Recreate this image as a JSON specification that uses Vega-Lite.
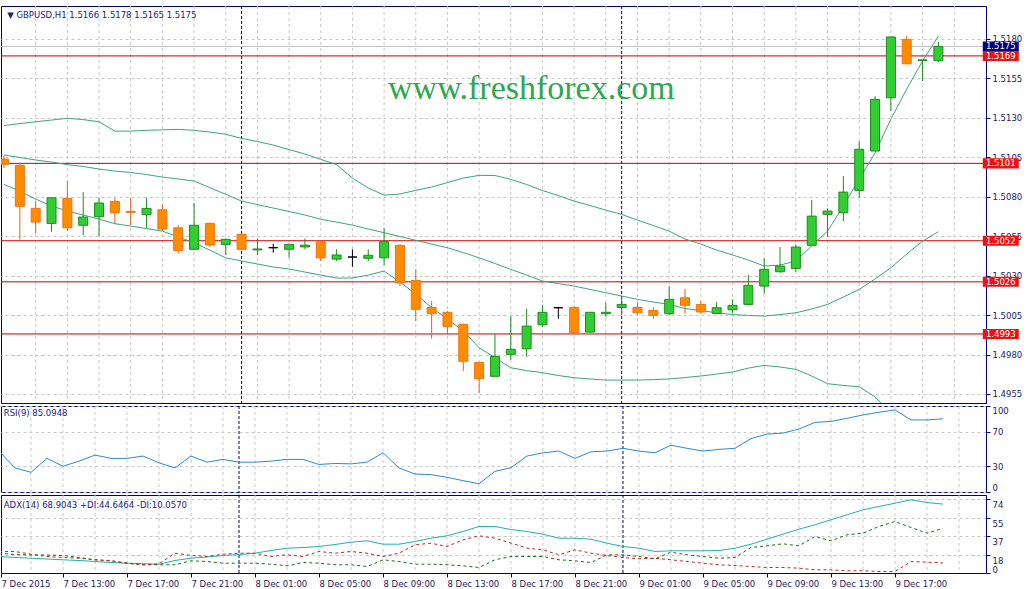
{
  "$schema": "https://vega.github.io/schema/vega-lite/v6.json",
  "background": "white",
  "padding": {"left": 0, "top": 5, "right": 0, "bottom": 0},
  "spacing": 3,
  "bounds": "flush",
  "config": {"view": {"stroke": "#000080", "strokeWidth": 1}, "text": {"font": "DejaVu Sans"}},
  "datasets": {
    "vgrid": [{"h":11},{"h":13},{"h":15},{"h":17},{"h":19},{"h":21},{"h":23},{"h":25},{"h":27},{"h":29},{"h":31},{"h":33},{"h":35},{"h":37},{"h":39},{"h":41},{"h":43},{"h":45},{"h":47},{"h":49},{"h":51},{"h":53},{"h":55},{"h":57},{"h":59},{"h":61},{"h":63},{"h":65},{"h":67},{"h":69}],
    "days": [{"h": 24}, {"h": 48}],
    "levels": [
      {"p": 1.5175, "kind": "bid"},
      {"p": 1.5169, "kind": "level"},
      {"p": 1.5101, "kind": "level"},
      {"p": 1.5052, "kind": "level"},
      {"p": 1.5026, "kind": "level"},
      {"p": 1.4993, "kind": "level"}
    ],
    "bars": [
      {"h":9,"o":1.51037,"hi":1.5106,"lo":1.5098,"c":1.51004,"dir":"down","bbU":1.51249,"bbM":1.51063,"bbL":1.50876,"rsi":47.6,"adx":16.5,"pdi":19.8,"mdi":21.5},
      {"h":10,"o":1.50997,"hi":1.51007,"lo":1.50526,"c":1.50738,"dir":"down","bbU":1.51262,"bbM":1.51047,"bbL":1.50835,"rsi":28.0,"adx":15.5,"pdi":18.5,"mdi":21.5},
      {"h":11,"o":1.50725,"hi":1.50771,"lo":1.50567,"c":1.50638,"dir":"down","bbU":1.51273,"bbM":1.51031,"bbL":1.50784,"rsi":22.9,"adx":14.8,"pdi":18.0,"mdi":18.8},
      {"h":12,"o":1.5063,"hi":1.50792,"lo":1.50577,"c":1.50792,"dir":"up","bbU":1.51284,"bbM":1.51018,"bbL":1.5074,"rsi":39.1,"adx":14.0,"pdi":18.0,"mdi":16.5},
      {"h":13,"o":1.50788,"hi":1.50898,"lo":1.50581,"c":1.50602,"dir":"down","bbU":1.51295,"bbM":1.51002,"bbL":1.50708,"rsi":30.0,"adx":13.2,"pdi":17.5,"mdi":15.5},
      {"h":14,"o":1.50618,"hi":1.50828,"lo":1.50554,"c":1.5067,"dir":"up","bbU":1.51287,"bbM":1.5099,"bbL":1.50683,"rsi":35.9,"adx":12.5,"pdi":15.5,"mdi":14.8},
      {"h":15,"o":1.50672,"hi":1.50792,"lo":1.50548,"c":1.50759,"dir":"up","bbU":1.51273,"bbM":1.50974,"bbL":1.50657,"rsi":42.9,"adx":11.5,"pdi":13.2,"mdi":13.2},
      {"h":16,"o":1.50769,"hi":1.50792,"lo":1.50624,"c":1.50697,"dir":"down","bbU":1.51214,"bbM":1.50961,"bbL":1.50628,"rsi":39.1,"adx":10.5,"pdi":12.2,"mdi":12.2},
      {"h":17,"o":1.50706,"hi":1.50792,"lo":1.50618,"c":1.507,"dir":"down","bbU":1.51214,"bbM":1.50952,"bbL":1.50613,"rsi":39.1,"adx":9.8,"pdi":9.8,"mdi":9.8},
      {"h":18,"o":1.50685,"hi":1.50792,"lo":1.50602,"c":1.50725,"dir":"up","bbU":1.51219,"bbM":1.50939,"bbL":1.50597,"rsi":41.8,"adx":9.3,"pdi":8.2,"mdi":8.2},
      {"h":19,"o":1.50716,"hi":1.5075,"lo":1.50581,"c":1.50594,"dir":"down","bbU":1.51222,"bbM":1.50923,"bbL":1.50581,"rsi":33.9,"adx":8.8,"pdi":8.2,"mdi":9.2},
      {"h":20,"o":1.50602,"hi":1.50618,"lo":1.5044,"c":1.50459,"dir":"down","bbU":1.51225,"bbM":1.50911,"bbL":1.50544,"rsi":28.0,"adx":12.5,"pdi":8.2,"mdi":19.8},
      {"h":21,"o":1.50466,"hi":1.50759,"lo":1.50459,"c":1.50618,"dir":"up","bbU":1.51219,"bbM":1.50898,"bbL":1.50507,"rsi":41.8,"adx":14.8,"pdi":12.2,"mdi":17.5},
      {"h":22,"o":1.5063,"hi":1.50635,"lo":1.5048,"c":1.50493,"dir":"down","bbU":1.51208,"bbM":1.50856,"bbL":1.50461,"rsi":34.7,"adx":16.0,"pdi":11.5,"mdi":16.5},
      {"h":23,"o":1.50497,"hi":1.50535,"lo":1.5043,"c":1.50529,"dir":"up","bbU":1.51194,"bbM":1.50814,"bbL":1.50412,"rsi":37.9,"adx":17.5,"pdi":9.8,"mdi":18.8},
      {"h":24,"o":1.50561,"hi":1.50565,"lo":1.50461,"c":1.50466,"dir":"down","bbU":1.51168,"bbM":1.50771,"bbL":1.50392,"rsi":34.7,"adx":18.5,"pdi":9.8,"mdi":19.8},
      {"h":25,"o":1.50462,"hi":1.50535,"lo":1.5043,"c":1.50468,"dir":"up","bbU":1.51148,"bbM":1.50749,"bbL":1.50373,"rsi":34.7,"adx":19.8,"pdi":9.8,"mdi":19.8},
      {"h":26,"o":1.50476,"hi":1.50501,"lo":1.50444,"c":1.50476,"dir":"doji","bbU":1.51126,"bbM":1.50727,"bbL":1.50354,"rsi":35.9,"adx":22.5,"pdi":8.8,"mdi":16.5},
      {"h":27,"o":1.50466,"hi":1.50501,"lo":1.50412,"c":1.50497,"dir":"up","bbU":1.51097,"bbM":1.50705,"bbL":1.50341,"rsi":37.9,"adx":24.8,"pdi":7.2,"mdi":18.2},
      {"h":28,"o":1.50481,"hi":1.50535,"lo":1.50466,"c":1.50492,"dir":"up","bbU":1.51069,"bbM":1.50683,"bbL":1.50322,"rsi":37.9,"adx":25.5,"pdi":10.5,"mdi":16.5},
      {"h":29,"o":1.50514,"hi":1.50516,"lo":1.50392,"c":1.50412,"dir":"down","bbU":1.51035,"bbM":1.50656,"bbL":1.50303,"rsi":32.0,"adx":26.5,"pdi":9.8,"mdi":21.5},
      {"h":30,"o":1.50404,"hi":1.50466,"lo":1.50392,"c":1.5043,"dir":"up","bbU":1.51002,"bbM":1.50638,"bbL":1.50284,"rsi":33.2,"adx":28.5,"pdi":8.2,"mdi":19.8},
      {"h":31,"o":1.50417,"hi":1.50466,"lo":1.50355,"c":1.50417,"dir":"doji","bbU":1.50917,"bbM":1.50619,"bbL":1.50284,"rsi":32.7,"adx":30.8,"pdi":8.2,"mdi":21.5},
      {"h":32,"o":1.50409,"hi":1.50466,"lo":1.50392,"c":1.50428,"dir":"up","bbU":1.50854,"bbM":1.50594,"bbL":1.50303,"rsi":34.7,"adx":32.2,"pdi":6.5,"mdi":19.8},
      {"h":33,"o":1.50412,"hi":1.50599,"lo":1.50366,"c":1.50514,"dir":"up","bbU":1.50809,"bbM":1.50571,"bbL":1.50328,"rsi":45.6,"adx":28.8,"pdi":13.2,"mdi":16.5},
      {"h":34,"o":1.50491,"hi":1.50497,"lo":1.50233,"c":1.50254,"dir":"down","bbU":1.50816,"bbM":1.50547,"bbL":1.50259,"rsi":28.0,"adx":28.8,"pdi":11.5,"mdi":19.8},
      {"h":35,"o":1.50269,"hi":1.50339,"lo":1.50012,"c":1.50086,"dir":"down","bbU":1.50839,"bbM":1.50523,"bbL":1.50183,"rsi":20.9,"adx":31.5,"pdi":8.8,"mdi":28.2},
      {"h":36,"o":1.50098,"hi":1.50138,"lo":1.499,"c":1.50058,"dir":"down","bbU":1.5086,"bbM":1.50499,"bbL":1.50096,"rsi":20.2,"adx":34.8,"pdi":8.8,"mdi":29.8},
      {"h":37,"o":1.50067,"hi":1.50075,"lo":1.49928,"c":1.49978,"dir":"down","bbU":1.50888,"bbM":1.50476,"bbL":1.50024,"rsi":17.1,"adx":37.2,"pdi":8.2,"mdi":26.5},
      {"h":38,"o":1.49991,"hi":1.49995,"lo":1.49695,"c":1.49757,"dir":"down","bbU":1.50917,"bbM":1.50445,"bbL":1.49949,"rsi":13.2,"adx":41.5,"pdi":7.2,"mdi":33.2},
      {"h":39,"o":1.4975,"hi":1.49752,"lo":1.49558,"c":1.49647,"dir":"down","bbU":1.50934,"bbM":1.50412,"bbL":1.49843,"rsi":9.6,"adx":46.5,"pdi":5.5,"mdi":37.2},
      {"h":40,"o":1.49662,"hi":1.49928,"lo":1.49662,"c":1.49788,"dir":"up","bbU":1.50933,"bbM":1.50376,"bbL":1.4978,"rsi":24.1,"adx":46.5,"pdi":13.2,"mdi":34.8},
      {"h":41,"o":1.49801,"hi":1.50043,"lo":1.49765,"c":1.49833,"dir":"up","bbU":1.50909,"bbM":1.50339,"bbL":1.49716,"rsi":28.2,"adx":43.5,"pdi":16.5,"mdi":30.0},
      {"h":42,"o":1.49836,"hi":1.5009,"lo":1.49786,"c":1.4998,"dir":"up","bbU":1.50876,"bbM":1.50303,"bbL":1.49698,"rsi":41.8,"adx":41.5,"pdi":16.5,"mdi":24.8},
      {"h":43,"o":1.49988,"hi":1.50113,"lo":1.49976,"c":1.50067,"dir":"up","bbU":1.50838,"bbM":1.50265,"bbL":1.49685,"rsi":45.6,"adx":38.8,"pdi":16.5,"mdi":23.2},
      {"h":44,"o":1.50096,"hi":1.50102,"lo":1.50026,"c":1.50096,"dir":"doji","bbU":1.50806,"bbM":1.50249,"bbL":1.49667,"rsi":47.6,"adx":34.8,"pdi":13.2,"mdi":18.2},
      {"h":45,"o":1.50098,"hi":1.50105,"lo":1.49931,"c":1.49938,"dir":"down","bbU":1.50771,"bbM":1.50233,"bbL":1.49653,"rsi":39.1,"adx":34.8,"pdi":12.2,"mdi":23.2},
      {"h":46,"o":1.49942,"hi":1.50067,"lo":1.49938,"c":1.50067,"dir":"up","bbU":1.50743,"bbM":1.50212,"bbL":1.49645,"rsi":46.8,"adx":33.8,"pdi":10.5,"mdi":19.8},
      {"h":47,"o":1.50058,"hi":1.50128,"lo":1.50039,"c":1.50067,"dir":"up","bbU":1.50714,"bbM":1.50191,"bbL":1.49638,"rsi":47.6,"adx":29.8,"pdi":18.2,"mdi":17.5},
      {"h":48,"o":1.50098,"hi":1.50159,"lo":1.50048,"c":1.50117,"dir":"up","bbU":1.50687,"bbM":1.5017,"bbL":1.49638,"rsi":50.8,"adx":26.5,"pdi":18.2,"mdi":15.5},
      {"h":49,"o":1.50098,"hi":1.50128,"lo":1.50048,"c":1.50064,"dir":"down","bbU":1.50651,"bbM":1.50149,"bbL":1.49638,"rsi":47.6,"adx":24.8,"pdi":16.5,"mdi":14.2},
      {"h":50,"o":1.50079,"hi":1.501,"lo":1.50026,"c":1.50048,"dir":"down","bbU":1.50616,"bbM":1.50132,"bbL":1.49641,"rsi":45.6,"adx":21.5,"pdi":14.2,"mdi":14.8},
      {"h":51,"o":1.50058,"hi":1.50233,"lo":1.50048,"c":1.50149,"dir":"up","bbU":1.50581,"bbM":1.50117,"bbL":1.49645,"rsi":54.4,"adx":22.2,"pdi":20.8,"mdi":13.2},
      {"h":52,"o":1.50159,"hi":1.50216,"lo":1.50058,"c":1.50111,"dir":"down","bbU":1.50531,"bbM":1.50091,"bbL":1.49654,"rsi":50.8,"adx":22.2,"pdi":18.2,"mdi":11.5},
      {"h":53,"o":1.50117,"hi":1.50138,"lo":1.5006,"c":1.50069,"dir":"down","bbU":1.50499,"bbM":1.50078,"bbL":1.49664,"rsi":47.6,"adx":22.2,"pdi":16.5,"mdi":9.8},
      {"h":54,"o":1.5006,"hi":1.50132,"lo":1.5006,"c":1.50096,"dir":"up","bbU":1.50461,"bbM":1.50064,"bbL":1.49676,"rsi":49.6,"adx":22.5,"pdi":14.8,"mdi":8.2},
      {"h":55,"o":1.50083,"hi":1.50149,"lo":1.50064,"c":1.50111,"dir":"up","bbU":1.5043,"bbM":1.50053,"bbL":1.49689,"rsi":50.8,"adx":24.8,"pdi":15.5,"mdi":7.5},
      {"h":56,"o":1.50117,"hi":1.50303,"lo":1.50117,"c":1.50238,"dir":"up","bbU":1.50398,"bbM":1.50047,"bbL":1.49714,"rsi":62.1,"adx":28.8,"pdi":25.5,"mdi":6.5},
      {"h":57,"o":1.50233,"hi":1.50409,"lo":1.50185,"c":1.50339,"dir":"up","bbU":1.5036,"bbM":1.50043,"bbL":1.49731,"rsi":67.3,"adx":33.8,"pdi":27.2,"mdi":5.5},
      {"h":58,"o":1.50324,"hi":1.5048,"lo":1.50318,"c":1.5036,"dir":"up","bbU":1.50366,"bbM":1.50053,"bbL":1.49721,"rsi":68.5,"adx":38.8,"pdi":29.2,"mdi":5.5},
      {"h":59,"o":1.50345,"hi":1.50497,"lo":1.50324,"c":1.5048,"dir":"up","bbU":1.50392,"bbM":1.50064,"bbL":1.49706,"rsi":73.2,"adx":43.8,"pdi":27.2,"mdi":4.8},
      {"h":60,"o":1.50491,"hi":1.50778,"lo":1.50491,"c":1.50676,"dir":"up","bbU":1.50487,"bbM":1.50088,"bbL":1.49664,"rsi":80.9,"adx":48.2,"pdi":36.5,"mdi":3.2},
      {"h":61,"o":1.50687,"hi":1.50725,"lo":1.50545,"c":1.50708,"dir":"up","bbU":1.50581,"bbM":1.50117,"bbL":1.49615,"rsi":82.1,"adx":53.2,"pdi":32.2,"mdi":3.2},
      {"h":62,"o":1.50697,"hi":1.5093,"lo":1.50645,"c":1.50828,"dir":"up","bbU":1.5074,"bbM":1.50164,"bbL":1.49604,"rsi":85.6,"adx":58.2,"pdi":38.2,"mdi":2.2},
      {"h":63,"o":1.50839,"hi":1.51151,"lo":1.50792,"c":1.51099,"dir":"up","bbU":1.50911,"bbM":1.50212,"bbL":1.49596,"rsi":89.6,"adx":63.2,"pdi":39.8,"mdi":2.2},
      {"h":64,"o":1.51088,"hi":1.51436,"lo":1.51088,"c":1.51415,"dir":"up","bbU":1.51075,"bbM":1.50278,"bbL":1.49531,"rsi":92.7,"adx":66.5,"pdi":46.5,"mdi":1.5},
      {"h":65,"o":1.51425,"hi":1.5181,"lo":1.51341,"c":1.5181,"dir":"up","bbU":1.5129,"bbM":1.50349,"bbL":1.49429,"rsi":95.5,"adx":69.8,"pdi":51.5,"mdi":1.5},
      {"h":66,"o":1.51795,"hi":1.51816,"lo":1.51637,"c":1.5164,"dir":"down","bbU":1.5148,"bbM":1.50436,"bbL":1.49391,"rsi":83.8,"adx":73.2,"pdi":45.5,"mdi":11.5},
      {"h":67,"o":1.51661,"hi":1.51665,"lo":1.51531,"c":1.51665,"dir":"up","bbU":1.51658,"bbM":1.50518,"bbL":1.49379,"rsi":83.8,"adx":70.5,"pdi":39.8,"mdi":10.8},
      {"h":68,"o":1.5166,"hi":1.5178,"lo":1.5165,"c":1.5175,"dir":"up","bbU":1.51816,"bbM":1.50577,"bbL":1.49341,"rsi":85.09,"adx":68.9,"pdi":44.65,"mdi":10.06}
    ]
  },
  "vconcat": [
    {
      "width": 985,
      "height": 397,
      "layer": [
        {
          "data": {"name": "vgrid"},
          "mark": {"type": "rule", "stroke": "#c8c8c8", "strokeDash": [3, 3], "strokeWidth": 1},
          "encoding": {"x": {"field": "h", "type": "quantitative", "scale": {"domain": [9.125, 70.69], "nice": false, "zero": false}, "axis": null}}
        },
        {
          "data": {"name": "days"},
          "mark": {"type": "rule", "stroke": "#000080", "strokeDash": [3, 2], "strokeWidth": 1},
          "encoding": {"x": {"field": "h", "type": "quantitative", "axis": null}}
        },
        {
          "data": {"name": "levels"},
          "mark": {"type": "rule", "strokeWidth": 1, "clip": true},
          "encoding": {
            "y": {"field": "p", "type": "quantitative", "title": null, "scale": {"domain": [1.49493, 1.52006], "nice": false, "zero": false},
              "axis": {"orient": "right", "title": null, "values": [1.4955, 1.498, 1.5005, 1.503, 1.5055, 1.508, 1.5105, 1.513, 1.5155, 1.518], "tickCount": 20, "format": ".4f", "grid": true, "gridColor": "#c8c8c8", "gridDash": [3, 3], "domainColor": "#000080", "tickColor": "#000080", "tickSize": 4, "labelPadding": 2, "labelColor": "#1a1a60", "labelFont": "DejaVu Sans", "labelFontSize": 8.5}},
            "stroke": {"field": "kind", "type": "nominal", "scale": {"domain": ["bid", "level"], "range": ["#c0c0c0", "#c80000"]}, "legend": null}
          }
        },
        {
          "data": {"values": [{"label": "www.freshforex.com"}]},
          "mark": {"type": "text", "font": "Liberation Serif", "fontSize": 34, "fill": "#2ea84e", "align": "center", "baseline": "alphabetic"},
          "encoding": {
            "x": {"datum": 42.3, "type": "quantitative", "axis": null},
            "y": {"datum": 1.51415, "type": "quantitative", "title": null},
            "text": {"field": "label"}
          }
        },
        {
          "data": {"name": "bars"},
          "mark": {"type": "line", "stroke": "#3ba57e", "strokeWidth": 1, "clip": true},
          "encoding": {
            "x": {"field": "h", "type": "quantitative", "axis": null},
            "y": {"field": "bbU", "type": "quantitative", "title": null}
          }
        },
        {
          "data": {"name": "bars"},
          "mark": {"type": "line", "stroke": "#3ba57e", "strokeWidth": 1, "clip": true},
          "encoding": {
            "x": {"field": "h", "type": "quantitative", "axis": null},
            "y": {"field": "bbM", "type": "quantitative", "title": null}
          }
        },
        {
          "data": {"name": "bars"},
          "mark": {"type": "line", "stroke": "#3ba57e", "strokeWidth": 1, "clip": true},
          "encoding": {
            "x": {"field": "h", "type": "quantitative", "axis": null},
            "y": {"field": "bbL", "type": "quantitative", "title": null}
          }
        },
        {
          "data": {"name": "bars"},
          "mark": {"type": "rule", "strokeWidth": 1, "clip": true},
          "encoding": {
            "x": {"field": "h", "type": "quantitative", "axis": null},
            "y": {"field": "lo", "type": "quantitative", "title": null},
            "y2": {"field": "hi"},
            "stroke": {"field": "dir", "type": "nominal", "scale": {"domain": ["up", "down", "doji"], "range": ["#1f8c1f", "#e8601a", "#000000"]}, "legend": null}
          }
        },
        {
          "data": {"name": "bars"},
          "mark": {"type": "bar", "size": 9, "strokeWidth": 1, "clip": true},
          "encoding": {
            "x": {"field": "h", "type": "quantitative", "axis": null},
            "y": {"field": "o", "type": "quantitative", "title": null},
            "y2": {"field": "c"},
            "fill": {"field": "dir", "type": "nominal", "scale": {"domain": ["up", "down", "doji"], "range": ["#32cd32", "#ff8c00", "#000000"]}, "legend": null},
            "stroke": {"field": "dir", "type": "nominal", "scale": {"domain": ["up", "down", "doji"], "range": ["#1f8c1f", "#ec7410", "#000000"]}, "legend": null}
          }
        },
        {
          "data": {"name": "levels"},
          "mark": {"type": "point", "shape": "M-1,-0.28L1,-0.28L1,0.28L-1,0.28Z", "size": 1296, "filled": true, "opacity": 1, "strokeWidth": 0},
          "encoding": {
            "x": {"datum": 71.94, "type": "quantitative", "axis": null},
            "y": {"field": "p", "type": "quantitative", "title": null},
            "color": {"field": "kind", "type": "nominal", "scale": {"domain": ["bid", "level"], "range": ["#000080", "#ee1111"]}, "legend": null}
          }
        },
        {
          "data": {"name": "levels"},
          "mark": {"type": "text", "fill": "white", "fontSize": 8.5, "align": "center", "baseline": "middle"},
          "encoding": {
            "x": {"datum": 71.94, "type": "quantitative", "axis": null},
            "y": {"field": "p", "type": "quantitative", "title": null},
            "text": {"field": "p", "type": "quantitative", "format": ".4f"}
          }
        },
        {
          "data": {"values": [{"label": "▼ GBPUSD,H1  1.5166 1.5178 1.5165 1.5175"}]},
          "mark": {"type": "text", "fill": "#202080", "fontSize": 8.5, "align": "left", "baseline": "middle"},
          "encoding": {
            "x": {"datum": 9.2, "type": "quantitative", "axis": null},
            "y": {"datum": 1.51949, "type": "quantitative", "title": null},
            "text": {"field": "label"}
          }
        }
      ],
      "resolve": {"scale": {"stroke": "independent", "fill": "independent", "color": "independent"}}
    },
    {
      "width": 985,
      "height": 86,
      "layer": [
        {
          "data": {"name": "vgrid"},
          "mark": {"type": "rule", "stroke": "#c8c8c8", "strokeDash": [3, 3], "strokeWidth": 1},
          "encoding": {"x": {"field": "h", "type": "quantitative", "scale": {"domain": [9.125, 70.69], "nice": false, "zero": false}, "axis": null}}
        },
        {
          "data": {"name": "days"},
          "mark": {"type": "rule", "stroke": "#000080", "strokeDash": [3, 2], "strokeWidth": 1},
          "encoding": {"x": {"field": "h", "type": "quantitative", "axis": null}}
        },
        {
          "data": {"name": "bars"},
          "mark": {"type": "line", "stroke": "#2a8ad4", "strokeWidth": 1, "clip": true},
          "encoding": {
            "x": {"field": "h", "type": "quantitative", "axis": null},
            "y": {"field": "rsi", "type": "quantitative", "title": null, "scale": {"domain": [0, 100], "nice": false},
              "axis": {"orient": "right", "title": null, "values": [0, 30, 70, 100], "tickCount": 20, "labelFlush": true, "grid": true, "gridColor": "#c8c8c8", "gridDash": [3, 3], "domainColor": "#000080", "tickColor": "#000080", "tickSize": 4, "labelPadding": 2, "labelColor": "#1a1a60", "labelFont": "DejaVu Sans", "labelFontSize": 8.5}}
          }
        },
        {
          "data": {"values": [{"label": "RSI(9) 85.0948"}]},
          "mark": {"type": "text", "fill": "#202080", "fontSize": 8.5, "align": "left", "baseline": "middle"},
          "encoding": {
            "x": {"datum": 9.3, "type": "quantitative", "axis": null},
            "y": {"datum": 91.5, "type": "quantitative", "title": null},
            "text": {"field": "label"}
          }
        }
      ]
    },
    {
      "width": 985,
      "height": 78,
      "layer": [
        {
          "data": {"name": "vgrid"},
          "mark": {"type": "rule", "stroke": "#c8c8c8", "strokeDash": [3, 3], "strokeWidth": 1},
          "encoding": {"x": {"field": "h", "type": "quantitative", "title": null, "scale": {"domain": [9.125, 70.69], "nice": false, "zero": false},
            "axis": {"title": null, "values": [9.125, 13, 17, 21, 25, 29, 33, 37, 41, 45, 49, 53, 57, 61, 65], "tickCount": 40, "labelExpr": "datum.value < 10 ? '7 Dec 2015' : (7 + floor(datum.value / 24)) + ' Dec ' + pad(toString(datum.value % 24), 2, '0', 'left') + ':00'", "labelAlign": "left", "labelFlush": false, "labelOverlap": false, "grid": false, "ticks": true, "tickSize": 4, "tickColor": "#000080", "domainColor": "#000080", "labelColor": "#1a1a60", "labelFont": "DejaVu Sans", "labelFontSize": 8.5, "labelPadding": 2}}}
        },
        {
          "data": {"name": "days"},
          "mark": {"type": "rule", "stroke": "#000080", "strokeDash": [3, 2], "strokeWidth": 1},
          "encoding": {"x": {"field": "h", "type": "quantitative", "title": null}}
        },
        {
          "data": {"name": "bars"},
          "mark": {"type": "line", "stroke": "#20b2aa", "strokeWidth": 1, "clip": true},
          "encoding": {
            "x": {"field": "h", "type": "quantitative", "title": null},
            "y": {"field": "adx", "type": "quantitative", "title": null, "scale": {"domain": [0, 78], "nice": false},
              "axis": {"orient": "right", "title": null, "values": [0, 18, 37, 55, 74], "tickCount": 20, "labelBaseline": {"condition": {"test": "datum.value === 0", "value": "bottom"}, "value": "top"}, "labelOffset": 1, "grid": true, "gridColor": "#c8c8c8", "gridDash": [3, 3], "domainColor": "#000080", "tickColor": "#000080", "tickSize": 4, "labelPadding": 2, "labelColor": "#1a1a60", "labelFont": "DejaVu Sans", "labelFontSize": 8.5}}
          }
        },
        {
          "data": {"name": "bars"},
          "mark": {"type": "line", "stroke": "#1a6e1a", "strokeWidth": 1, "strokeDash": [3, 3], "clip": true},
          "encoding": {
            "x": {"field": "h", "type": "quantitative", "title": null},
            "y": {"field": "pdi", "type": "quantitative", "title": null}
          }
        },
        {
          "data": {"name": "bars"},
          "mark": {"type": "line", "stroke": "#c0281e", "strokeWidth": 1, "strokeDash": [3, 3], "clip": true},
          "encoding": {
            "x": {"field": "h", "type": "quantitative", "title": null},
            "y": {"field": "mdi", "type": "quantitative", "title": null}
          }
        },
        {
          "data": {"values": [{"label": "ADX(14) 68.9043 +DI:44.6464 -DI:10.0570"}]},
          "mark": {"type": "text", "fill": "#202080", "fontSize": 8.5, "align": "left", "baseline": "middle"},
          "encoding": {
            "x": {"datum": 9.3, "type": "quantitative", "title": null},
            "y": {"datum": 67.7, "type": "quantitative", "title": null},
            "text": {"field": "label"}
          }
        }
      ]
    }
  ]
}
